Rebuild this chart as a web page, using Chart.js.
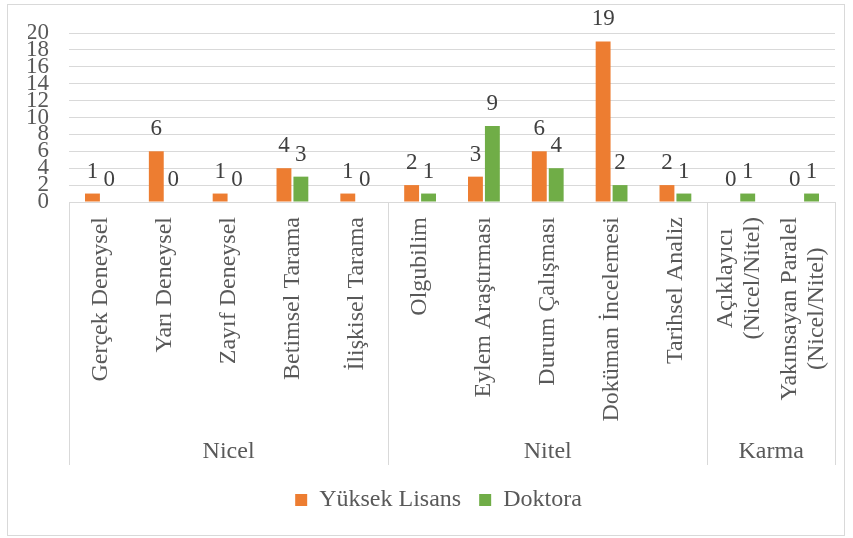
<!DOCTYPE html>
<html>
<head>
<meta charset="utf-8">
<script src="https://cdn.jsdelivr.net/npm/chart.js@4.4.0/dist/chart.umd.min.js"></script>
<style>
  html, body { margin: 0; padding: 0; background: #fff; }
  #frame { position: absolute; left: 7px; top: 4px; width: 838px; height: 532px; box-sizing: border-box; border: 1px solid #d9d9d9; }
  #frame canvas { display: block; }
</style>
</head>
<body>
<div id="frame"><canvas id="chart" width="836" height="530"></canvas></div>
<script>
// === Data ===
const categories = [
    'Gerçek Deneysel', 'Yarı Deneysel', 'Zayıf Deneysel', 'Betimsel Tarama', 'İlişkisel Tarama',
    'Olgubilim', 'Eylem Araştırması', 'Durum Çalışması', 'Doküman İncelemesi', 'Tarihsel Analiz',
    ['Açıklayıcı', '(Nicel/Nitel)'], ['Yakınsayan Paralel', '(Nicel/Nitel)']
];
const groupNames = ['Nicel', 'Nitel', 'Karma'];
const groupSizes = [5, 5, 2];
const yuksekLisans = [1, 6, 1, 4, 1, 2, 3, 6, 19, 2, 0, 0];
const doktora = [0, 0, 0, 3, 0, 1, 9, 4, 2, 1, 1, 1];

const FONT = '"Liberation Serif", "Times New Roman", serif';
const TEXT = '#595959';
const LINE = '#d9d9d9';

// value labels over each bar (zeros too, like the original)
const valueLabels = {
    id: 'valueLabels',
    afterDatasetsDraw(chart) {
        const ctx = chart.ctx;
        ctx.save();
        ctx.font = '23px ' + FONT;
        ctx.fillStyle = '#404040';
        ctx.textAlign = 'center';
        ctx.textBaseline = 'alphabetic';
        chart.data.datasets.forEach((ds, i) => {
            chart.getDatasetMeta(i).data.forEach((bar, j) => {
                ctx.fillText(String(ds.data[j]), bar.x, bar.y - 16);
            });
        });
        ctx.restore();
    }
};

// wrapped tick labels: center the lines on the tick like Excel does
const centerWrapped = {
    id: 'centerWrapped',
    beforeDraw(chart) {
        const ctx = chart.ctx;
        const items = chart.scales.x.getLabelItems(chart.chartArea);
        items.forEach(item => {
            if (!Array.isArray(item.label) || item._centered) return;
            ctx.save();
            ctx.font = item.font.string;
            const w = Math.max(...item.label.map(t => ctx.measureText(t).width));
            ctx.restore();
            item.options.translation[0] -= item.font.lineHeight * (item.label.length - 1) / 2;
            item.options.translation[1] += w / 2;
            item.options.textAlign = 'center';
            item._centered = true;
        });
    }
};

// second level of the category axis: group names + separators
const groupAxis = {
    id: 'groupAxis',
    afterDraw(chart) {
        const ctx = chart.ctx;
        const x = chart.scales.x;
        const bottom = chart.chartArea.bottom;
        ctx.save();
        ctx.strokeStyle = LINE;
        ctx.lineWidth = 1;
        ctx.font = '24px ' + FONT;
        ctx.fillStyle = TEXT;
        ctx.textAlign = 'center';
        ctx.textBaseline = 'middle';
        let start = 0;
        const edges = [start];
        groupSizes.forEach(n => { start += n; edges.push(start); });
        edges.forEach(k => {
            const px = Math.round(x.getPixelForValue(k - 0.5)) + 0.5;
            ctx.beginPath();
            ctx.moveTo(px, bottom);
            ctx.lineTo(px, bottom + 263);
            ctx.stroke();
        });
        groupNames.forEach((name, g) => {
            const a = x.getPixelForValue(edges[g] - 0.5);
            const b = x.getPixelForValue(edges[g + 1] - 0.5);
            ctx.fillText(name, (a + b) / 2, bottom + 250);
        });
        ctx.restore();
    }
};

// nudge legend a bit right (Excel centres it on the plot)
const legendShift = {
    id: 'legendShift',
    afterLayout(chart) {
        chart.legend.left += 7;
        chart.legend.right += 7;
    }
};

const ctx = document.getElementById('chart').getContext('2d');
new Chart(ctx, {
    type: 'bar',
    data: {
        labels: categories,
        datasets: [
            { label: 'Yüksek Lisans', data: yuksekLisans, backgroundColor: '#ED7D31' },
            { label: 'Doktora', data: doktora, backgroundColor: '#70AD47' }
        ]
    },
    options: {
        responsive: false,
        animation: false,
        categoryPercentage: 0.53,
        barPercentage: 0.88,
        layout: { padding: { left: 20, right: 9, top: 28, bottom: 13 } },
        scales: {
            y: {
                min: 0,
                max: 20,
                afterFit: s => { s.width = 41; s.paddingTop = 0; s.paddingBottom = 0; },
                ticks: { stepSize: 2, autoSkip: false, padding: 20, color: TEXT, font: { family: FONT, size: 23 } },
                grid: { color: LINE, drawTicks: false },
                border: { display: false }
            },
            x: {
                afterFit: s => { s.height = 268; s.paddingLeft = 0; s.paddingRight = 0; },
                ticks: {
                    autoSkip: false, minRotation: 90, maxRotation: 90, padding: 7,
                    color: TEXT, font: { family: FONT, size: 24, lineHeight: 1.1 }
                },
                grid: { display: false },
                border: { color: LINE }
            }
        },
        plugins: {
            tooltip: { enabled: false },
            legend: {
                position: 'bottom',
                labels: { boxWidth: 12, boxHeight: 12, padding: 18, color: TEXT, font: { family: FONT, size: 24 } }
            }
        }
    },
    plugins: [valueLabels, centerWrapped, groupAxis, legendShift]
});
</script>
</body>
</html>
